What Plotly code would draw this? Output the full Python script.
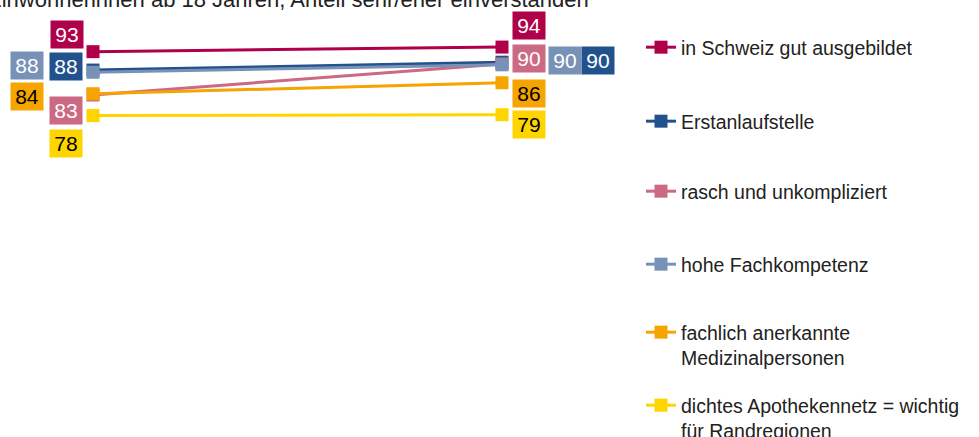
import plotly.graph_objects as go

# ---- data ----
years = [0, 1]  # two survey points (left / right)
series_names = [
    "in Schweiz gut ausgebildet",
    "Erstanlaufstelle",
    "rasch und unkompliziert",
    "hohe Fachkompetenz",
    "fachlich anerkannte<br>Medizinalpersonen",
    "dichtes Apothekennetz = wichtig<br>für Randregionen",
]
val_gut_ausgebildet = [93.0, 94.05]
val_erstanlaufstelle = [88.8, 90.6]
val_rasch = [83.1, 90.2]
val_fachkompetenz = [88.3, 90.0]
val_anerkannt = [83.4, 85.9]
val_apothekennetz = [78.4, 78.6]
lab_gut_ausgebildet = ["93", "94"]
lab_erstanlaufstelle = ["88", "90"]
lab_rasch = ["83", "90"]
lab_fachkompetenz = ["88", "90"]
lab_anerkannt = ["84", "86"]
lab_apothekennetz = ["78", "79"]

values = [val_gut_ausgebildet, val_erstanlaufstelle, val_rasch,
          val_fachkompetenz, val_anerkannt, val_apothekennetz]
labels = [lab_gut_ausgebildet, lab_erstanlaufstelle, lab_rasch,
          lab_fachkompetenz, lab_anerkannt, lab_apothekennetz]

# ---- styling ----
colors = ["#B0004A", "#22528E", "#CC6983", "#7891B7", "#F5A400", "#FFD500"]
text_colors = ["white", "white", "white", "white", "black", "black"]
# label offsets in pixels (left point, right point)
offsets = [
    [(-26, 17), (27, 22)],
    [(-27, 4), (96, 2)],
    [(-27, -15), (27, 5)],
    [(-66, 7), (63, 4)],
    [(-66, -3), (27, -11)],
    [(-27, -28), (27, -10)],
]
legend_top_px = [28, 102, 172, 245, 313, 386]

W, H = 979, 437
FONT = "Liberation Sans, Arial, sans-serif"

fig = go.Figure()
annotations = []
for i, (name, vals, labs) in enumerate(zip(series_names, values, labels)):
    legend_id = "legend" if i == 0 else f"legend{i+1}"
    fig.add_trace(go.Scatter(
        x=years, y=vals, name=name, mode="lines+markers",
        line=dict(color=colors[i], width=3),
        marker=dict(symbol="square", size=13, color=colors[i]),
        legend=legend_id,
    ))
    for j in range(2):
        dx, dy = offsets[i][j]
        annotations.append(dict(
            x=years[j], y=vals[j], xref="x", yref="y", text=labs[j],
            showarrow=False, xshift=dx, yshift=dy,
            font=dict(family=FONT, size=21, color=text_colors[i]),
            bgcolor=colors[i], width=32, height=27, align="center",
            valign="middle", borderpad=0,
        ))

annotations.append(dict(
    x=591 / W, y=1, xref="paper", yref="paper", xanchor="right",
    yanchor="middle", yshift=1, showarrow=False,
    text="Einwohnerinnen ab 18 Jahren, Anteil sehr/eher einverstanden",
    font=dict(family=FONT, size=22, color="#222222"),
))

layout_legends = {}
for i in range(6):
    key = "legend" if i == 0 else f"legend{i+1}"
    layout_legends[key] = dict(
        x=641 / W, y=1 - legend_top_px[i] / H, xanchor="left", yanchor="top",
        bgcolor="rgba(0,0,0,0)", font=dict(family=FONT, size=19.5, color="#222222"),
        valign="top", borderwidth=0, itemclick=False,
    )

px_per_unit_x = 409
x0_px = 93
fig.update_layout(
    width=W, height=H,
    margin=dict(l=0, r=0, t=0, b=0, autoexpand=False),
    paper_bgcolor="white", plot_bgcolor="white",
    xaxis=dict(range=[-x0_px / px_per_unit_x, (W - x0_px) / px_per_unit_x],
               visible=False, fixedrange=True),
    yaxis=dict(range=[5.0, 104.8], visible=False, fixedrange=True),
    showlegend=True,
    annotations=annotations,
    **layout_legends,
)

fig.write_html("out.html", config={"displayModeBar": False},
               post_script="document.body.style.margin='0';")
